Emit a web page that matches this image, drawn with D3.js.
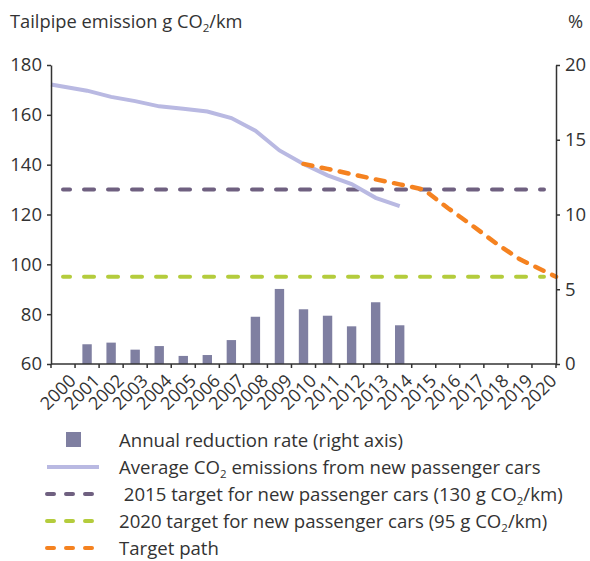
<!DOCTYPE html>
<html><head><meta charset="utf-8">
<script src="https://cdn.jsdelivr.net/npm/d3@7"></script>
<style>
body{margin:0;background:#fff}
text{font-family:"Open Sans",sans-serif;fill:#333}
</style></head>
<body><svg id="c" width="590" height="561"></svg>
<script>
const years = ["2000","2001","2002","2003","2004","2005","2006","2007","2008","2009","2010","2011","2012","2013","2014","2015","2016","2017","2018","2019","2020"];
const leftTicks = [60,80,100,120,140,160,180];
const rightTicks = [0,5,10,15,20];
const barYears = ["2001","2002","2003","2004","2005","2006","2007","2008","2009","2010","2011","2012","2013","2014"];
const reductionRate = [1.32,1.43,0.96,1.2,0.54,0.6,1.6,3.16,5.02,3.66,3.23,2.52,4.13,2.59];
const avgYears = ["2000","2001","2002","2003","2004","2005","2006","2007","2008","2009","2010","2011","2012","2013","2014"];
const avgEmissions = [172.2,169.7,167.2,165.5,163.4,162.4,161.3,158.7,153.6,145.7,140.3,135.7,132.2,126.7,123.4];
const pathYears = ["2010","2011","2012","2013","2014","2015","2016","2017","2018","2019","2020"];
const targetPath = [140.3,138.3,136.2,134.1,132.1,130,122.6,115.7,108.5,102,95];
const target2015 = 130;
const target2020 = 95;

const C = {bar:"#7f7fa1", avg:"#b9b9e2", t15:"#6f6080", t20:"#b4cc3c", path:"#f58220", axis:"#333"};

const svg = d3.select("#c");
const x = d3.scaleBand().domain(years).range([51,556]).padding(0);
const bw = x.bandwidth();
const yL = d3.scaleLinear().domain([60,180]).range([364,65]);
const yR = d3.scaleLinear().domain([0,20]).range([364,65]);
const first = years[0], last = years[years.length-1];
const lx = yr => yr===first ? x(yr) : yr===last ? x(yr)+bw : x(yr)+bw/2;
const cx = yr => x(yr)+bw/2;

// title
const t = svg.append("text").attr("x",10).attr("y",28).style("font-size","18.3px");
t.append("tspan").text("Tailpipe emission g CO");
t.append("tspan").text("2").style("font-size","11.5px").attr("dy",4);
t.append("tspan").text("/km").attr("dy",-4);
svg.append("text").attr("x",583).attr("y",28).attr("text-anchor","end").style("font-size","18.3px").text("%");

// bars
svg.append("g").selectAll("rect").data(barYears).join("rect")
  .attr("x",(d)=>cx(d)-bw*0.195).attr("width",bw*0.39)
  .attr("y",(d,i)=>yR(reductionRate[i])).attr("height",(d,i)=>yR(0)-yR(reductionRate[i]))
  .attr("fill",C.bar);

// horizontal targets
function hline(v,color){
  svg.append("line").attr("x1",cx(first)).attr("x2",cx(last)).attr("y1",yL(v)).attr("y2",yL(v))
    .attr("stroke",color).attr("stroke-width",4).attr("stroke-linecap","round")
    .attr("stroke-dasharray","10,14").attr("stroke-dashoffset",3);
}
hline(target2015,C.t15);
hline(target2020,C.t20);

// avg line
svg.append("path").datum(avgYears.map((d,i)=>[lx(d),yL(avgEmissions[i])]))
  .attr("d",d3.line()).attr("fill","none").attr("stroke",C.avg).attr("stroke-width",4);

// target path
svg.append("path").datum(pathYears.map((d,i)=>[lx(d),yL(targetPath[i])]))
  .attr("d",d3.line()).attr("fill","none").attr("stroke",C.path).attr("stroke-width",4.5)
  .attr("stroke-linecap","round").attr("stroke-dasharray","9,9.5");

// axes
const gl = svg.append("g").attr("transform","translate(51,0)")
  .call(d3.axisLeft(yL).tickValues(leftTicks).tickSize(4).tickSizeOuter(0).tickPadding(5));
const gr = svg.append("g").attr("transform","translate(556,0)")
  .call(d3.axisRight(yR).tickValues(rightTicks).tickSize(4).tickSizeOuter(0).tickPadding(5));
[gl,gr].forEach(g=>{
  g.selectAll("text").style("font-size","18.5px").attr("fill","#333");
  g.selectAll("line,path").attr("stroke",C.axis).attr("stroke-width",1.5);
});
const gx = svg.append("g").attr("transform","translate(0,364)");
gx.append("line").attr("x1",x.range()[0]).attr("x2",x.range()[1]).attr("stroke",C.axis).attr("stroke-width",1.5);
gx.selectAll("line.tk").data(years.concat(["__end"])).join("line").attr("class","tk")
  .attr("x1",d=>d==="__end"?x.range()[1]:x(d)).attr("x2",d=>d==="__end"?x.range()[1]:x(d))
  .attr("y1",0).attr("y2",4).attr("stroke",C.axis).attr("stroke-width",1.5);
gx.selectAll("text").data(years).join("text")
  .attr("transform",d=>`translate(${cx(d)+5},9) rotate(-45)`)
  .attr("text-anchor","end").attr("dy","0.7em").style("font-size","18px").text(d=>d);

// legend
const L = svg.append("g");
const rows = [
  {type:"rect", color:C.bar, parts:[["Annual reduction rate (right axis)"]]},
  {type:"solid", color:C.avg, parts:[["Average CO"],["2",1],[" emissions from new passenger cars"]]},
  {type:"dash", color:C.t15, parts:[["\u00a02015 target for new passenger cars (130 g CO"],["2",1],["/km)"]]},
  {type:"dash", color:C.t20, parts:[["2020 target for new passenger cars (95 g CO"],["2",1],["/km)"]]},
  {type:"dash", color:C.path, parts:[["Target path"]]}
];
rows.forEach((r,i)=>{
  const yc = 440 + i*27;
  if(r.type==="rect") L.append("rect").attr("x",66).attr("y",yc-8).attr("width",15).attr("height",15).attr("fill",r.color);
  else L.append("line").attr("x1",47).attr("x2",99).attr("y1",yc).attr("y2",yc)
    .attr("stroke",r.color).attr("stroke-width",4).attr("stroke-linecap", r.type==="dash"?"round":"butt")
    .attr("stroke-dasharray", r.type==="dash"?"7,12":null);
  const tx = L.append("text").attr("x",119).attr("y",yc+6.5).style("font-size","18.6px");
  r.parts.forEach(p=>{
    const s = tx.append("tspan").text(p[0]);
    if(p[1]) s.style("font-size","11.5px").attr("dy",4);
    else if(tx.selectAll("tspan").size()>1) s.attr("dy",-4);
  });
});
</script></body></html>
